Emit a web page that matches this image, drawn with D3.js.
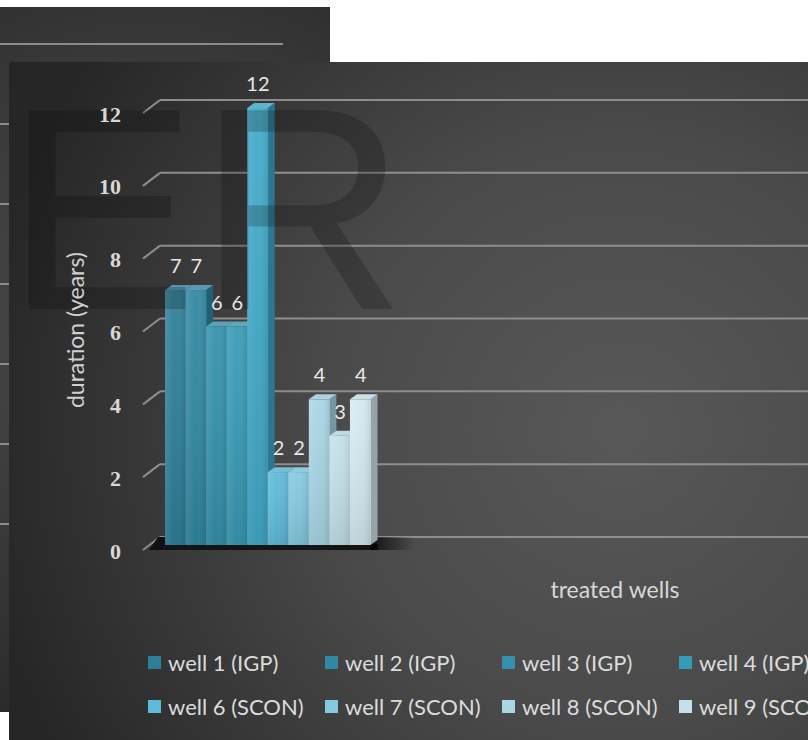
<!DOCTYPE html>
<html>
<head>
<meta charset="utf-8">
<script src="https://cdn.jsdelivr.net/npm/d3@7"></script>
<style>
  html, body { margin: 0; padding: 0; background: #ffffff; overflow: hidden; }
  svg { display: block; }
</style>
</head>
<body>
<svg id="chart" width="808" height="740"></svg>
<script>
// ---- data ----
const wells = [
  "well 1 (IGP)", "well 2 (IGP)", "well 3 (IGP)", "well 4 (IGP)", "well 5 (IGP)",
  "well 6 (SCON)", "well 7 (SCON)", "well 8 (SCON)", "well 9 (SCON)", "well 10 (SCON)"
];
const durations = [7, 7, 6, 6, 12, 2, 2, 4, 3, 4];
const wellColors = [
  "#2d7f99", "#3088a3", "#3391ac", "#379ab6", "#40aaca",
  "#5dbbd9", "#84c9e0", "#a8d6e6", "#c3e0eb", "#d6eaf1"
];
const yTicks = [0, 2, 4, 6, 8, 10, 12];
const yTitle = "duration (years)";
const xTitle = "treated wells";
const watermark = "ER";

// ---- setup ----
const svg = d3.select("#chart");
const W = 808, H = 740;
const defs = svg.append("defs");

function radial(id, cx, cy, r, stops) {
  const g = defs.append("radialGradient").attr("id", id)
    .attr("gradientUnits", "userSpaceOnUse")
    .attr("cx", cx).attr("cy", cy).attr("r", r);
  stops.forEach(([o, c]) => g.append("stop").attr("offset", o).attr("stop-color", c));
}
function linear(id, x1, y1, x2, y2, stops) {
  const g = defs.append("linearGradient").attr("id", id)
    .attr("x1", x1).attr("y1", y1).attr("x2", x2).attr("y2", y2);
  stops.forEach(([o, c, a]) => g.append("stop").attr("offset", o)
    .attr("stop-color", c).attr("stop-opacity", a == null ? 1 : a));
}

radial("backBg", 150, 320, 470, [[0, "#4e4e4e"], [0.6, "#373737"], [1, "#262626"]]);
radial("frontBg", 620, 430, 650, [[0, "#585858"], [0.45, "#4a4a4a"], [1, "#262626"]]);
linear("sheenH", 0, 0, 1, 0, [[0, "#ffffff", 0.10], [0.45, "#ffffff", 0.0], [1, "#000000", 0.10]]);
linear("sheenV", 0, 0, 0, 1, [[0, "#ffffff", 0.06], [1, "#000000", 0.10]]);
linear("floorShadow", 0, 0, 1, 0, [[0, "#000000", 0.75], [1, "#000000", 0]]);

// ---- panel behind ----
const backPanel = { x: 0, y: 7, w: 330, h: 705 };
svg.append("rect")
  .attr("x", backPanel.x).attr("y", backPanel.y)
  .attr("width", backPanel.w).attr("height", backPanel.h)
  .attr("fill", "url(#backBg)");

const yBack = d3.scaleLinear().domain([0, 12]).range([524, 44]);
svg.append("g").selectAll("line").data(yTicks).join("line")
  .attr("x1", 0).attr("x2", 283)
  .attr("y1", d => yBack(d)).attr("y2", d => yBack(d))
  .attr("stroke", "#8c8c8c").attr("stroke-width", 2);

// ---- main panel ----
const frontPanel = { x: 9, y: 62 };
svg.append("rect")
  .attr("x", frontPanel.x).attr("y", frontPanel.y)
  .attr("width", W - frontPanel.x).attr("height", H - frontPanel.y)
  .attr("fill", "url(#frontBg)");

// scales
const x = d3.scaleBand().domain(wells).range([165, 370.5]).paddingInner(0).paddingOuter(0);
const y = d3.scaleLinear().domain([0, 12]).range([545, 108]);
const barDepth = { dx: 7, dy: 5 };
const wall = { x0: 143, x1: 160, front: 5, back: 8 };

// back wall gridlines and slanted side-wall ticks
const grid = svg.append("g");
grid.selectAll("line.h").data(yTicks).join("line").attr("class", "h")
  .attr("x1", wall.x1).attr("x2", W)
  .attr("y1", d => y(d) - wall.back).attr("y2", d => y(d) - wall.back)
  .attr("stroke", "#8e8e8e").attr("stroke-width", 2);
grid.selectAll("line.s").data(yTicks).join("line").attr("class", "s")
  .attr("x1", wall.x0).attr("x2", wall.x1)
  .attr("y1", d => y(d) + wall.front).attr("y2", d => y(d) - wall.back)
  .attr("stroke", "#8e8e8e").attr("stroke-width", 2);

// floor shadow under the bars
const barsLeft = x(wells[0]), barsRight = x(wells[wells.length - 1]) + x.bandwidth();
svg.append("polygon")
  .attr("points", [
    [wall.x1 - 2, y(0) - wall.back], [barsLeft, y(0) - wall.back],
    [barsLeft, y(0) + 5], [wall.x0 + 6, y(0) + 5]
  ].map(p => p.join(",")).join(" "))
  .attr("fill", "#111");
svg.append("rect")
  .attr("x", barsLeft - 2).attr("y", y(0) - 1)
  .attr("width", barsRight - barsLeft + barDepth.dx + 2).attr("height", 6)
  .attr("fill", "#141414");
svg.append("rect")
  .attr("x", barsRight).attr("y", y(0) - wall.back)
  .attr("width", 45).attr("height", wall.back + 5)
  .attr("fill", "url(#floorShadow)");

// ---- 3D bars ----
const bars = wells.map((w, i) => ({ well: w, value: durations[i], color: wellColors[i] }));
const barG = svg.append("g");
bars.forEach(d => {
  const x0 = x(d.well), x1 = x0 + x.bandwidth();
  const t = y(d.value), b = y(0);
  const { dx, dy } = barDepth;
  const g = barG.append("g");
  // right face
  g.append("polygon")
    .attr("points", [[x1, t], [x1 + dx, t - dy], [x1 + dx, b - dy], [x1, b]].map(p => p.join(",")).join(" "))
    .attr("fill", d3.color(d.color).darker(1.0));
  // top face
  g.append("polygon")
    .attr("points", [[x0, t], [x1, t], [x1 + dx, t - dy], [x0 + dx, t - dy]].map(p => p.join(",")).join(" "))
    .attr("fill", d3.interpolateRgb(d.color, "#b8c8d0")(0.3));
  // front face
  g.append("rect").attr("x", x0).attr("y", t).attr("width", x.bandwidth() + 0.4).attr("height", b - t)
    .attr("fill", d.color);
  g.append("rect").attr("x", x0).attr("y", t).attr("width", x.bandwidth()).attr("height", b - t)
    .attr("fill", "url(#sheenH)");
  g.append("rect").attr("x", x0).attr("y", t).attr("width", x.bandwidth()).attr("height", b - t)
    .attr("fill", "url(#sheenV)");
});

// ---- watermark letters over the plot ----
svg.append("text")
  .attr("x", 5).attr("y", 309)
  .attr("font-family", "'Liberation Sans', Arial, sans-serif")
  .attr("font-size", 289)
  .attr("fill", "#000")
  .attr("fill-opacity", 0.2)
  .text(watermark);

// ---- text ----
const sans = "Lato, 'Open Sans', sans-serif";

// y tick labels
svg.append("g").selectAll("text").data(yTicks).join("text")
  .attr("x", 121).attr("y", d => y(d) + 13.5)
  .attr("text-anchor", "end")
  .attr("font-family", "'Liberation Serif', 'DejaVu Serif', serif")
  .attr("font-weight", "bold")
  .attr("font-size", 22)
  .attr("fill", "#d8d8d8")
  .text(d => d);

// value labels
svg.append("g").selectAll("text").data(bars).join("text")
  .attr("x", d => x(d.well) + x.bandwidth() / 2 + 0.5)
  .attr("y", d => y(d.value) - 17)
  .attr("text-anchor", "middle")
  .attr("font-family", sans)
  .attr("font-size", 20)
  .attr("fill", "#e8e8e8")
  .text(d => d.value);

// axis titles
svg.append("text")
  .attr("transform", "translate(84,330) rotate(-90)")
  .attr("text-anchor", "middle")
  .attr("font-family", sans)
  .attr("font-size", 23)
  .attr("fill", "#d0d0d0")
  .text(yTitle);

svg.append("text")
  .attr("x", 615).attr("y", 598)
  .attr("text-anchor", "middle")
  .attr("font-family", sans)
  .attr("font-size", 23)
  .attr("fill", "#d8d8d8")
  .text(xTitle);

// legend (five entries per row; the right-hand column runs past the page edge)
const legendCols = 5, colStep = 177, rowStep = 44;
const legend = svg.append("g").attr("transform", "translate(148,663)");
const item = legend.selectAll("g").data(bars).join("g")
  .attr("transform", (d, i) => `translate(${(i % legendCols) * colStep},${Math.floor(i / legendCols) * rowStep})`);
item.append("rect").attr("x", 0).attr("y", -7).attr("width", 13).attr("height", 13)
  .attr("fill", d => d.color);
item.append("text").attr("x", 20).attr("y", 7.5)
  .attr("font-family", sans)
  .attr("font-size", 22)
  .attr("fill", "#dcdcdc")
  .text(d => d.well);
</script>
</body>
</html>
